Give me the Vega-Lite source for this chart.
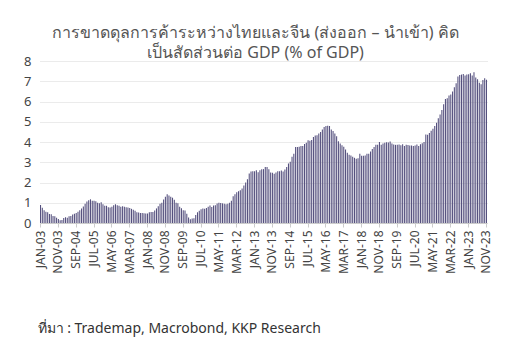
{
  "$schema": "https://vega.github.io/schema/vega-lite/v6.json",
  "width": 447,
  "height": 162,
  "autosize": {"type": "none"},
  "padding": {"left": 40, "top": 61, "right": 23, "bottom": 121},
  "background": "white",
  "title": {
    "text": ["การขาดดุลการค้าระหว่างไทยและจีน (ส่งออก – นำเข้า) คิด", "เป็นสัดส่วนต่อ GDP (% of GDP)"],
    "anchor": "middle",
    "fontSize": 16,
    "fontWeight": "normal",
    "color": "#555555",
    "lineHeight": 20,
    "offset": -6,
    "dx": -8
  },
  "data": {
    "values": [
      {"m":"JAN-03","v":0.89},{"m":"FEB-03","v":0.75},{"m":"MAR-03","v":0.63},{"m":"APR-03","v":0.55},{"m":"MAY-03","v":0.53},{"m":"JUN-03","v":0.45},{"m":"JUL-03","v":0.43},{"m":"AUG-03","v":0.35},{"m":"SEP-03","v":0.33},{"m":"OCT-03","v":0.26},{"m":"NOV-03","v":0.2},{"m":"DEC-03","v":0.14},
      {"m":"JAN-04","v":0.15},{"m":"FEB-04","v":0.25},{"m":"MAR-04","v":0.28},{"m":"APR-04","v":0.26},{"m":"MAY-04","v":0.33},{"m":"JUN-04","v":0.35},{"m":"JUL-04","v":0.42},{"m":"AUG-04","v":0.46},{"m":"SEP-04","v":0.5},{"m":"OCT-04","v":0.56},{"m":"NOV-04","v":0.63},{"m":"DEC-04","v":0.72},
      {"m":"JAN-05","v":0.82},{"m":"FEB-05","v":0.95},{"m":"MAR-05","v":1.06},{"m":"APR-05","v":1.12},{"m":"MAY-05","v":1.17},{"m":"JUN-05","v":1.1},{"m":"JUL-05","v":1.1},{"m":"AUG-05","v":1.08},{"m":"SEP-05","v":1.0},{"m":"OCT-05","v":0.98},{"m":"NOV-05","v":1.03},{"m":"DEC-05","v":0.92},
      {"m":"JAN-06","v":0.85},{"m":"FEB-06","v":0.85},{"m":"MAR-06","v":0.78},{"m":"APR-06","v":0.77},{"m":"MAY-06","v":0.8},{"m":"JUN-06","v":0.88},{"m":"JUL-06","v":0.93},{"m":"AUG-06","v":0.88},{"m":"SEP-06","v":0.85},{"m":"OCT-06","v":0.8},{"m":"NOV-06","v":0.83},{"m":"DEC-06","v":0.8},
      {"m":"JAN-07","v":0.78},{"m":"FEB-07","v":0.77},{"m":"MAR-07","v":0.74},{"m":"APR-07","v":0.7},{"m":"MAY-07","v":0.65},{"m":"JUN-07","v":0.6},{"m":"JUL-07","v":0.53},{"m":"AUG-07","v":0.52},{"m":"SEP-07","v":0.5},{"m":"OCT-07","v":0.5},{"m":"NOV-07","v":0.48},{"m":"DEC-07","v":0.47},
      {"m":"JAN-08","v":0.47},{"m":"FEB-08","v":0.53},{"m":"MAR-08","v":0.54},{"m":"APR-08","v":0.54},{"m":"MAY-08","v":0.62},{"m":"JUN-08","v":0.72},{"m":"JUL-08","v":0.83},{"m":"AUG-08","v":0.95},{"m":"SEP-08","v":1.0},{"m":"OCT-08","v":1.16},{"m":"NOV-08","v":1.3},{"m":"DEC-08","v":1.42},
      {"m":"JAN-09","v":1.36},{"m":"FEB-09","v":1.3},{"m":"MAR-09","v":1.25},{"m":"APR-09","v":1.15},{"m":"MAY-09","v":1.0},{"m":"JUN-09","v":0.97},{"m":"JUL-09","v":0.8},{"m":"AUG-09","v":0.73},{"m":"SEP-09","v":0.63},{"m":"OCT-09","v":0.62},{"m":"NOV-09","v":0.46},{"m":"DEC-09","v":0.27},
      {"m":"JAN-10","v":0.19},{"m":"FEB-10","v":0.22},{"m":"MAR-10","v":0.23},{"m":"APR-10","v":0.4},{"m":"MAY-10","v":0.53},{"m":"JUN-10","v":0.6},{"m":"JUL-10","v":0.68},{"m":"AUG-10","v":0.71},{"m":"SEP-10","v":0.7},{"m":"OCT-10","v":0.74},{"m":"NOV-10","v":0.8},{"m":"DEC-10","v":0.86},
      {"m":"JAN-11","v":0.79},{"m":"FEB-11","v":0.87},{"m":"MAR-11","v":0.88},{"m":"APR-11","v":0.96},{"m":"MAY-11","v":1.0},{"m":"JUN-11","v":0.99},{"m":"JUL-11","v":0.97},{"m":"AUG-11","v":0.95},{"m":"SEP-11","v":0.93},{"m":"OCT-11","v":0.95},{"m":"NOV-11","v":1.0},{"m":"DEC-11","v":1.1},
      {"m":"JAN-12","v":1.32},{"m":"FEB-12","v":1.42},{"m":"MAR-12","v":1.52},{"m":"APR-12","v":1.57},{"m":"MAY-12","v":1.62},{"m":"JUN-12","v":1.7},{"m":"JUL-12","v":1.85},{"m":"AUG-12","v":2.0},{"m":"SEP-12","v":2.16},{"m":"OCT-12","v":2.44},{"m":"NOV-12","v":2.54},{"m":"DEC-12","v":2.55},
      {"m":"JAN-13","v":2.55},{"m":"FEB-13","v":2.6},{"m":"MAR-13","v":2.51},{"m":"APR-13","v":2.6},{"m":"MAY-13","v":2.66},{"m":"JUN-13","v":2.66},{"m":"JUL-13","v":2.76},{"m":"AUG-13","v":2.76},{"m":"SEP-13","v":2.66},{"m":"OCT-13","v":2.5},{"m":"NOV-13","v":2.48},{"m":"DEC-13","v":2.43},
      {"m":"JAN-14","v":2.49},{"m":"FEB-14","v":2.56},{"m":"MAR-14","v":2.56},{"m":"APR-14","v":2.59},{"m":"MAY-14","v":2.54},{"m":"JUN-14","v":2.64},{"m":"JUL-14","v":2.77},{"m":"AUG-14","v":2.94},{"m":"SEP-14","v":3.02},{"m":"OCT-14","v":3.27},{"m":"NOV-14","v":3.42},{"m":"DEC-14","v":3.75},
      {"m":"JAN-15","v":3.75},{"m":"FEB-15","v":3.76},{"m":"MAR-15","v":3.8},{"m":"APR-15","v":3.8},{"m":"MAY-15","v":3.9},{"m":"JUN-15","v":3.96},{"m":"JUL-15","v":4.09},{"m":"AUG-15","v":4.06},{"m":"SEP-15","v":4.1},{"m":"OCT-15","v":4.25},{"m":"NOV-15","v":4.32},{"m":"DEC-15","v":4.33},
      {"m":"JAN-16","v":4.42},{"m":"FEB-16","v":4.49},{"m":"MAR-16","v":4.62},{"m":"APR-16","v":4.74},{"m":"MAY-16","v":4.79},{"m":"JUN-16","v":4.8},{"m":"JUL-16","v":4.79},{"m":"AUG-16","v":4.62},{"m":"SEP-16","v":4.54},{"m":"OCT-16","v":4.42},{"m":"NOV-16","v":4.29},{"m":"DEC-16","v":4.04},
      {"m":"JAN-17","v":3.93},{"m":"FEB-17","v":3.84},{"m":"MAR-17","v":3.76},{"m":"APR-17","v":3.63},{"m":"MAY-17","v":3.47},{"m":"JUN-17","v":3.37},{"m":"JUL-17","v":3.33},{"m":"AUG-17","v":3.27},{"m":"SEP-17","v":3.22},{"m":"OCT-17","v":3.17},{"m":"NOV-17","v":3.2},{"m":"DEC-17","v":3.42},
      {"m":"JAN-18","v":3.32},{"m":"FEB-18","v":3.32},{"m":"MAR-18","v":3.33},{"m":"APR-18","v":3.42},{"m":"MAY-18","v":3.42},{"m":"JUN-18","v":3.53},{"m":"JUL-18","v":3.65},{"m":"AUG-18","v":3.75},{"m":"SEP-18","v":3.86},{"m":"OCT-18","v":3.86},{"m":"NOV-18","v":4.0},{"m":"DEC-18","v":3.86},
      {"m":"JAN-19","v":3.93},{"m":"FEB-19","v":3.96},{"m":"MAR-19","v":3.99},{"m":"APR-19","v":3.98},{"m":"MAY-19","v":4.03},{"m":"JUN-19","v":3.93},{"m":"JUL-19","v":3.88},{"m":"AUG-19","v":3.86},{"m":"SEP-19","v":3.86},{"m":"OCT-19","v":3.88},{"m":"NOV-19","v":3.84},{"m":"DEC-19","v":3.89},
      {"m":"JAN-20","v":3.8},{"m":"FEB-20","v":3.86},{"m":"MAR-20","v":3.85},{"m":"APR-20","v":3.83},{"m":"MAY-20","v":3.83},{"m":"JUN-20","v":3.8},{"m":"JUL-20","v":3.83},{"m":"AUG-20","v":3.88},{"m":"SEP-20","v":3.8},{"m":"OCT-20","v":3.89},{"m":"NOV-20","v":3.94},{"m":"DEC-20","v":4.0},
      {"m":"JAN-21","v":4.37},{"m":"FEB-21","v":4.36},{"m":"MAR-21","v":4.44},{"m":"APR-21","v":4.55},{"m":"MAY-21","v":4.65},{"m":"JUN-21","v":4.79},{"m":"JUL-21","v":4.95},{"m":"AUG-21","v":5.17},{"m":"SEP-21","v":5.36},{"m":"OCT-21","v":5.58},{"m":"NOV-21","v":5.86},{"m":"DEC-21","v":6.12},
      {"m":"JAN-22","v":6.16},{"m":"FEB-22","v":6.3},{"m":"MAR-22","v":6.35},{"m":"APR-22","v":6.49},{"m":"MAY-22","v":6.7},{"m":"JUN-22","v":6.9},{"m":"JUL-22","v":7.23},{"m":"AUG-22","v":7.31},{"m":"SEP-22","v":7.33},{"m":"OCT-22","v":7.36},{"m":"NOV-22","v":7.28},{"m":"DEC-22","v":7.33},
      {"m":"JAN-23","v":7.35},{"m":"FEB-23","v":7.39},{"m":"MAR-23","v":7.29},{"m":"APR-23","v":7.44},{"m":"MAY-23","v":7.19},{"m":"JUN-23","v":7.1},{"m":"JUL-23","v":6.93},{"m":"AUG-23","v":6.85},{"m":"SEP-23","v":7.06},{"m":"OCT-23","v":7.15},{"m":"NOV-23","v":7.08}
    ]
  },
  "mark": {"type": "bar", "color": "#55507e"},
  "encoding": {
    "x": {
      "field": "m",
      "type": "ordinal",
      "sort": null,
      "scale": {"paddingInner": 0.4, "paddingOuter": 0},
      "axis": {
        "values": ["JAN-03","NOV-03","SEP-04","JUL-05","MAY-06","MAR-07","JAN-08","NOV-08","SEP-09","JUL-10","MAY-11","MAR-12","JAN-13","NOV-13","SEP-14","JUL-15","MAY-16","MAR-17","JAN-18","NOV-18","SEP-19","JUL-20","MAY-21","MAR-22","JAN-23","NOV-23"],
        "labelAngle": -90,
        "labelFontSize": 12,
        "labelColor": "#444444",
        "labelPadding": 3,
        "tickColor": "#cccccc",
        "tickSize": 4,
        "domainColor": "#cccccc",
        "title": "ที่มา : Trademap, Macrobond, KKP Research",
        "titleAnchor": "start",
        "titleAlign": "left",
        "titleX": -3,
        "titleY": 105,
        "titleBaseline": "middle",
        "titleFontWeight": "normal",
        "titleFontSize": 14,
        "titleColor": "#333333"
      }
    },
    "y": {
      "field": "v",
      "type": "quantitative",
      "scale": {"domain": [0, 8]},
      "axis": {
        "title": null,
        "values": [0, 1, 2, 3, 4, 5, 6, 7, 8],
        "grid": true,
        "gridDash": [1, 1],
        "gridColor": "#d6d6d6",
        "domain": false,
        "ticks": false,
        "labelFontSize": 13,
        "labelColor": "#444444",
        "labelPadding": 9
      }
    }
  },
  "config": {"view": {"stroke": null}, "font": "Noto Sans"}
}
